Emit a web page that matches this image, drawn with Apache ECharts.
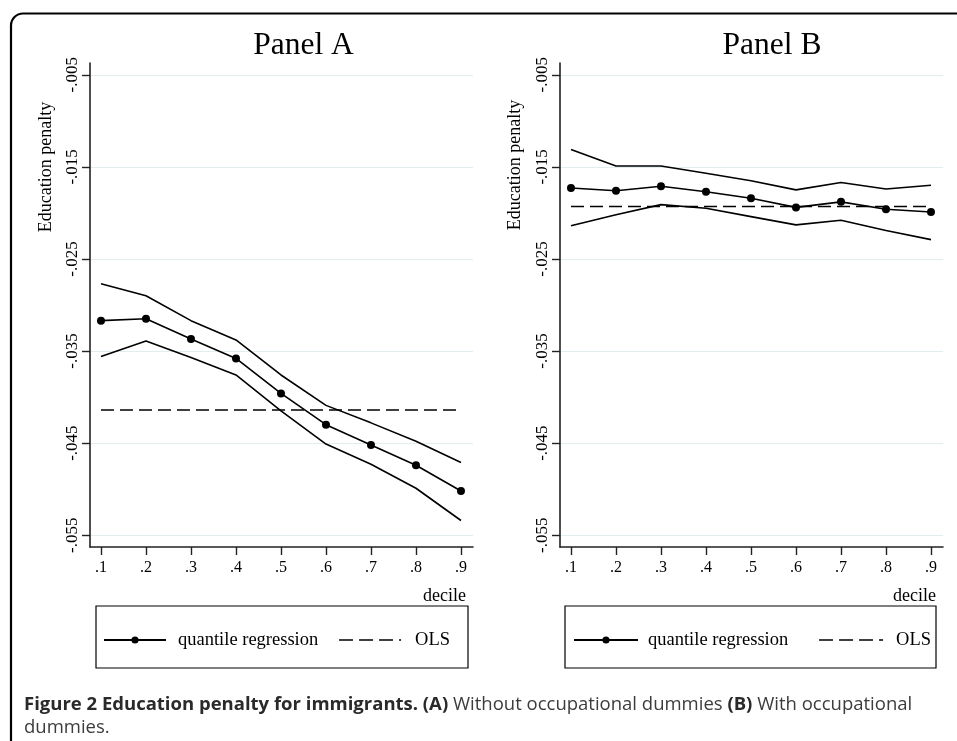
<!DOCTYPE html>
<html>
<head>
<meta charset="utf-8">
<script src="https://cdn.jsdelivr.net/npm/echarts@6/dist/echarts.min.js"></script>
<style>
html,body{margin:0;padding:0;background:#fff;}
#chart{width:957px;height:741px;}
</style>
</head>
<body>
<div id="chart"></div>
<script>
// ---- data ----
var deciles = [0.1, 0.2, 0.3, 0.4, 0.5, 0.6, 0.7, 0.8, 0.9];
var xTickValues = [0.1, 0.2, 0.3, 0.4, 0.5, 0.6, 0.7, 0.8, 0.9];
var yTickValues = [-0.055, -0.045, -0.035, -0.025, -0.015, -0.005];

// Panel A: without occupational dummies
var aUpper    = [-0.0277, -0.0290, -0.0317, -0.0338, -0.0376, -0.0409, -0.0428, -0.0448, -0.0471];
var aEstimate = [-0.0317, -0.0315, -0.0337, -0.0358, -0.0396, -0.0430, -0.0452, -0.0474, -0.0502];
var aLower    = [-0.0356, -0.0339, -0.0357, -0.0376, -0.0415, -0.0451, -0.0473, -0.0499, -0.0534];
var aOLS      = [-0.0414, -0.0414, -0.0414, -0.0414, -0.0414, -0.0414, -0.0414, -0.0414, -0.0414];

// Panel B: with occupational dummies
var bUpper    = [-0.0131, -0.0149, -0.0149, -0.0157, -0.0165, -0.0175, -0.0167, -0.0174, -0.0170];
var bEstimate = [-0.0173, -0.0176, -0.0171, -0.0177, -0.0184, -0.0194, -0.0188, -0.0196, -0.0199];
var bLower    = [-0.0214, -0.0202, -0.0191, -0.0195, -0.0204, -0.0213, -0.0208, -0.0219, -0.0229];
var bOLS      = [-0.0193, -0.0193, -0.0193, -0.0193, -0.0193, -0.0193, -0.0193, -0.0193, -0.0193];

var panelTitles = ['Panel A', 'Panel B'];
var yName = 'Education penalty';
var xName = 'decile';
var legendNames = ['quantile regression', 'OLS'];

// ---- helpers ----
function pairs(xs, ys) { return xs.map(function (x, i) { return [x, ys[i]]; }); }
var SERIF = '"Liberation Serif", "Times New Roman", serif';
var SANS = '"Open Sans", "Noto Sans", sans-serif';

function xAxisFor(idx) {
  return {
    type: 'value', gridIndex: idx, min: 0.0756, max: 0.9267,
    name: xName, nameLocation: 'end', nameGap: -7,
    nameTextStyle: { fontFamily: SERIF, fontSize: 18, color: '#000', align: 'right', verticalAlign: 'top', padding: [40, 0, 0, 0] },
    axisLine: { show: true, onZero: false, lineStyle: { color: '#222', width: 1.6 } },
    axisTick: { show: true, length: 8, customValues: xTickValues, lineStyle: { color: '#222', width: 1.4 } },
    axisLabel: { customValues: xTickValues, margin: 13, fontFamily: SERIF, fontSize: 16, color: '#000',
      formatter: function (v) { return '.' + Math.round(v * 10); } },
    splitLine: { show: false }
  };
}
function yAxisFor(idx) {
  return {
    type: 'value', gridIndex: idx, min: -0.05628, max: -0.00372,
    axisLine: { show: true, onZero: false, lineStyle: { color: '#222', width: 1.6 } },
    axisTick: { show: true, length: 8, customValues: yTickValues, lineStyle: { color: '#222', width: 1.4 } },
    axisLabel: { customValues: yTickValues, rotate: 90, margin: 9, fontFamily: SERIF, fontSize: 17, color: '#000',
      formatter: function (v) { return '-.' + String(Math.round(-v * 1000)).padStart(3, '0'); } },
    splitLine: { show: true, lineStyle: { color: '#e3ecee', width: 1.2 } }
  };
}
function lineSeries(name, idx, xs, ys, opts) {
  var s = {
    name: name, type: 'line', xAxisIndex: idx, yAxisIndex: idx,
    data: pairs(xs, ys), symbol: 'none', showSymbol: false,
    lineStyle: { color: '#000', width: 1.6 }, itemStyle: { color: '#000' },
    silent: true, animation: false, z: 3
  };
  for (var k in opts) s[k] = opts[k];
  return s;
}
function panelSeries(idx, up, est, lo, ols) {
  return [
    lineSeries('upper bound', idx, deciles, up, {}),
    lineSeries('lower bound', idx, deciles, lo, {}),
    lineSeries('OLS', idx, deciles, ols, { lineStyle: { color: '#000', width: 1.6, type: [13, 6] } }),
    lineSeries('quantile regression', idx, deciles, est, { symbol: 'circle', symbolSize: 8, showSymbol: true, z: 4 })
  ];
}
function legendFor(left, itemWidth, pad, gap, t1pad, t2pad) {
  return {
    left: left, top: 606, orient: 'horizontal',
    padding: pad, itemGap: gap, itemWidth: itemWidth, itemHeight: 9,
    borderColor: '#000', borderWidth: 1.2, borderRadius: 0,
    selectedMode: false,
    textStyle: { fontFamily: SERIF, fontSize: 18.5, color: '#000', lineHeight: 20 },
    data: [
      { name: legendNames[0], textStyle: { padding: [0, 0, 0, t1pad] } },
      { name: legendNames[1], itemStyle: { opacity: 0 }, lineStyle: { type: [14, 6], width: 1.6, color: '#000' },
        textStyle: { padding: [0, 0, 0, t2pad] } }
    ]
  };
}

var option = {
  backgroundColor: '#fff',
  animation: false,
  title: [
    { text: panelTitles[0], left: 298.5, textAlign: 'center', top: 25, padding: 5,
      textStyle: { fontFamily: SERIF, fontSize: 31.5, fontWeight: 'normal', color: '#000' } },
    { text: panelTitles[1], left: 767, textAlign: 'center', top: 25, padding: 5,
      textStyle: { fontFamily: SERIF, fontSize: 31.5, fontWeight: 'normal', color: '#000' } }
  ],
  grid: [
    { left: 90, top: 63, width: 383, height: 484 },
    { left: 560, top: 63, width: 383, height: 484 }
  ],
  xAxis: [xAxisFor(0), xAxisFor(1)],
  yAxis: [yAxisFor(0), yAxisFor(1)],
  legend: [
    legendFor(96, 62, [24, 18, 18, 7], 20, 7, 9),
    legendFor(565, 64, [24, 5, 18, 8], 30, 5, 8)
  ],
  series: [].concat(
    panelSeries(0, aUpper, aEstimate, aLower, aOLS),
    panelSeries(1, bUpper, bEstimate, bLower, bOLS)
  ),
  graphic: [
    { type: 'rect', silent: true, z: 0,
      shape: { x: 11, y: 13.5, width: 1000, height: 800, r: 12 },
      style: { fill: 'none', stroke: '#000', lineWidth: 2.2 } },
    { type: 'text', x: 46, y: 167, rotation: Math.PI / 2, silent: true,
      style: { text: yName, align: 'center', verticalAlign: 'middle', fontFamily: SERIF, fontSize: 18, fill: '#000' } },
    { type: 'text', x: 515, y: 165, rotation: Math.PI / 2, silent: true,
      style: { text: yName, align: 'center', verticalAlign: 'middle', fontFamily: SERIF, fontSize: 18, fill: '#000' } },
    { type: 'text', x: 24, y: 693, silent: true,
      style: {
        text: '{b|Figure 2 Education penalty for immigrants. (A)} {r|Without occupational dummies} {b|(B)} {r|With occupational}\n{r|dummies.}',
        fontFamily: SANS, fontSize: 18.5, lineHeight: 23, fill: '#3a3a3a',
        rich: {
          b: { fontFamily: SANS, fontSize: 18.5, fontWeight: 'bold', fill: '#2a2a2a', lineHeight: 23 },
          r: { fontFamily: SANS, fontSize: 18.5, fontWeight: 'normal', fill: '#3c3c3c', lineHeight: 23 }
        }
      } }
  ]
};

var chart = echarts.init(document.getElementById('chart'), null, { renderer: 'canvas' });
chart.setOption(option);
</script>
</body>
</html>
